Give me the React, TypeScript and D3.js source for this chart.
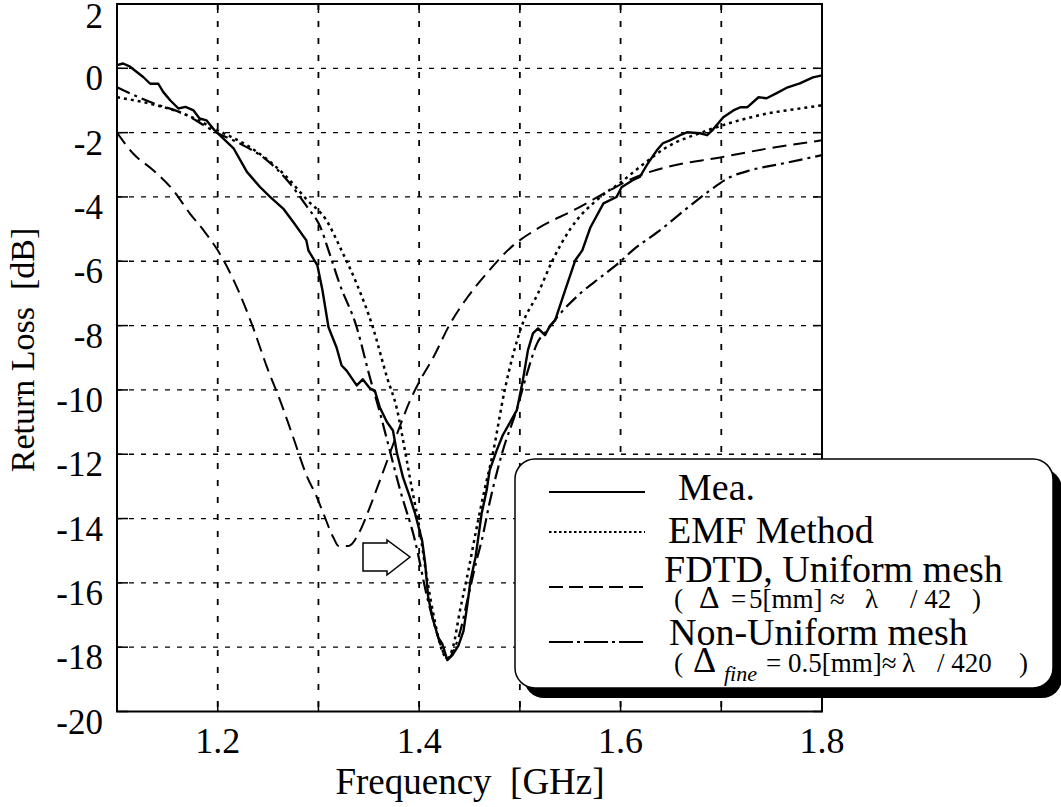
import React from "react";
import * as d3 from "d3";

// ---------- data ----------
const xTicks = [1.2, 1.4, 1.6, 1.8];
const xGrid = [1.2, 1.3, 1.4, 1.5, 1.6, 1.7];
const yTicks = [2, 0, -2, -4, -6, -8, -10, -12, -14, -16, -18, -20];
const yGrid = [0, -2, -4, -6, -8, -10, -12, -14, -16, -18];

const meaF = [1.1, 1.106, 1.113, 1.126, 1.133, 1.141, 1.146, 1.153, 1.161, 1.168, 1.176, 1.182, 1.189, 1.197, 1.202, 1.216, 1.229, 1.242, 1.252, 1.265, 1.275, 1.288, 1.29, 1.299, 1.304, 1.31, 1.318, 1.323, 1.328, 1.338, 1.344, 1.351, 1.356, 1.361, 1.368, 1.374, 1.378, 1.384, 1.391, 1.396, 1.403, 1.406, 1.409, 1.414, 1.419, 1.423, 1.428, 1.433, 1.439, 1.444, 1.448, 1.451, 1.456, 1.462, 1.467, 1.47, 1.477, 1.483, 1.497, 1.503, 1.508, 1.513, 1.518, 1.525, 1.53, 1.535, 1.545, 1.555, 1.562, 1.57, 1.583, 1.596, 1.601, 1.612, 1.619, 1.627, 1.636, 1.642, 1.649, 1.659, 1.666, 1.679, 1.686, 1.691, 1.702, 1.712, 1.719, 1.726, 1.737, 1.745, 1.755, 1.766, 1.778, 1.791, 1.8];
const meaV = [0.1, 0.15, 0.05, -0.27, -0.48, -0.48, -0.74, -1.0, -1.25, -1.2, -1.31, -1.56, -1.62, -1.93, -2.08, -2.5, -3.22, -3.69, -4.0, -4.36, -4.78, -5.35, -5.66, -6.13, -6.9, -8.05, -8.68, -9.24, -9.4, -9.86, -9.67, -9.95, -10.02, -10.55, -11.0, -11.26, -11.97, -12.72, -13.35, -13.85, -14.69, -15.4, -16.45, -17.17, -17.7, -17.9, -18.4, -18.25, -17.95, -17.5, -16.65, -15.93, -15.2, -13.85, -13.13, -12.5, -11.88, -11.41, -10.63, -9.7, -8.77, -8.24, -8.09, -8.3, -8.0, -7.84, -6.9, -5.97, -5.66, -4.95, -4.2, -4.0, -3.7, -3.48, -3.38, -2.96, -2.55, -2.33, -2.24, -2.08, -1.99, -2.02, -2.08, -1.93, -1.52, -1.31, -1.21, -1.21, -0.9, -0.93, -0.77, -0.59, -0.47, -0.28, -0.22];

const emfF = [1.1, 1.133, 1.166, 1.2, 1.232, 1.265, 1.289, 1.308, 1.322, 1.338, 1.354, 1.368, 1.378, 1.386, 1.393, 1.399, 1.408, 1.414, 1.424, 1.428, 1.434, 1.44, 1.449, 1.457, 1.465, 1.473, 1.485, 1.502, 1.518, 1.532, 1.55, 1.58, 1.6, 1.619, 1.646, 1.68, 1.712, 1.745, 1.778, 1.8];
const emfV = [-0.9, -1.1, -1.41, -1.93, -2.45, -3.27, -4.1, -4.73, -5.6, -6.7, -8.05, -9.6, -10.6, -11.9, -13.1, -14.06, -15.9, -16.95, -18.2, -18.35, -17.95, -16.95, -15.6, -14.3, -13.1, -12.0, -10.0, -8.0, -7.0, -6.0, -5.0, -4.0, -3.55, -3.07, -2.45, -2.0, -1.67, -1.41, -1.25, -1.15];

const fdtdF = [1.1, 1.116, 1.136, 1.156, 1.172, 1.186, 1.2, 1.216, 1.235, 1.249, 1.262, 1.275, 1.289, 1.298, 1.305, 1.315, 1.32, 1.33, 1.341, 1.351, 1.363, 1.378, 1.391, 1.401, 1.414, 1.431, 1.448, 1.467, 1.49, 1.52, 1.553, 1.593, 1.612, 1.646, 1.699, 1.745, 1.8];
const fdtdV = [-2.0, -2.65, -3.17, -3.8, -4.5, -5.04, -5.66, -6.6, -8.05, -9.3, -10.33, -11.48, -12.72, -13.3, -13.85, -14.6, -14.85, -14.85, -14.4, -13.65, -12.65, -11.37, -10.33, -9.7, -8.99, -7.93, -7.12, -6.38, -5.6, -4.94, -4.42, -3.73, -3.42, -3.07, -2.77, -2.5, -2.24];

const nuF = [1.1, 1.133, 1.166, 1.2, 1.222, 1.249, 1.269, 1.289, 1.302, 1.31, 1.321, 1.338, 1.351, 1.361, 1.371, 1.381, 1.396, 1.408, 1.418, 1.428, 1.438, 1.45, 1.457, 1.462, 1.47, 1.483, 1.497, 1.507, 1.517, 1.527, 1.537, 1.56, 1.58, 1.6, 1.612, 1.639, 1.666, 1.689, 1.709, 1.729, 1.761, 1.8];
const nuV = [-0.59, -1.05, -1.41, -2.02, -2.34, -2.86, -3.48, -4.32, -4.94, -5.66, -6.7, -8.05, -9.6, -10.7, -11.9, -13.1, -14.7, -16.45, -17.6, -18.35, -17.8, -16.25, -15.3, -14.7, -13.5, -11.9, -10.6, -9.5, -8.56, -8.15, -7.74, -7.0, -6.5, -6.0, -5.66, -5.04, -4.35, -3.79, -3.38, -3.17, -2.96, -2.7];

const legendLabels = ["Mea.", "EMF Method", "FDTD, Uniform mesh", "Non-Uniform mesh"];

// ---------- layout ----------
const W = 1061;
const H = 807;
const L = 117, R = 822, T = 4, B = 711.5;
const FONT = "Liberation Serif";

const x = d3.scaleLinear().domain([1.1, 1.8]).range([L, R]);
const y = d3.scaleLinear().domain([-20, 2]).range([B, T]);

const zip = (a: number[], b: number[]) => a.map((v, i) => [v, b[i]] as [number, number]);
const lineLin = d3.line<[number, number]>().x((d) => x(d[0])).y((d) => y(d[1])).curve(d3.curveLinear);
const lineSmooth = d3.line<[number, number]>().x((d) => x(d[0])).y((d) => y(d[1])).curve(d3.curveMonotoneX);

function T0({ x0, y0, size, children, anchor = "start" }: any) {
  return (
    <text x={x0} y={y0} fontFamily={FONT} fontSize={size} textAnchor={anchor} fill="#000">
      {children}
    </text>
  );
}

export default function App() {
  const ls = 549, le = 645;
  const sub = 27;
  return (
    <svg width={W} height={H} style={{ position: "absolute", left: 0, top: 0, background: "#fff" }}>
      <rect x={0} y={0} width={W} height={H} fill="#fff" />
      {/* grid */}
      {yGrid.map((v) => (
        <line key={"hg" + v} x1={L} x2={R} y1={y(v)} y2={y(v)} stroke="#000" strokeWidth={1.3} strokeDasharray="5,7" />
      ))}
      {xGrid.map((v) => (
        <line key={"vg" + v} x1={x(v)} x2={x(v)} y1={T} y2={B} stroke="#000" strokeWidth={1.8} strokeDasharray="6,11" />
      ))}
      {/* ticks */}
      {yTicks.map((v) => (
        <g key={"yt" + v}>
          <line x1={L} x2={L + 11} y1={y(v)} y2={y(v)} stroke="#000" strokeWidth={1.5} />
          <line x1={R - 9} x2={R} y1={y(v)} y2={y(v)} stroke="#000" strokeWidth={1.5} />
        </g>
      ))}
      {xGrid.map((v) => (
        <g key={"xt" + v}>
          <line x1={x(v)} x2={x(v)} y1={B} y2={B - 10} stroke="#000" strokeWidth={1.5} />
          <line x1={x(v)} x2={x(v)} y1={T} y2={T + 9} stroke="#000" strokeWidth={1.5} />
        </g>
      ))}
      {/* curves */}
      <path d={lineSmooth(zip(fdtdF, fdtdV)) || ""} fill="none" stroke="#000" strokeWidth={2} strokeDasharray="14,7" />
      <path d={lineSmooth(zip(nuF, nuV)) || ""} fill="none" stroke="#000" strokeWidth={2.2} strokeDasharray="14,5,3,5" />
      <path d={lineSmooth(zip(emfF, emfV)) || ""} fill="none" stroke="#000" strokeWidth={2.5} strokeDasharray="3,4" />
      <path d={lineLin(zip(meaF, meaV)) || ""} fill="none" stroke="#000" strokeWidth={2.4} strokeLinejoin="round" />
      {/* frame */}
      <rect x={L} y={T} width={R - L} height={B - T} fill="none" stroke="#000" strokeWidth={2} />
      {/* y tick labels */}
      {yTicks.map((v) => (
        <T0 key={"yl" + v} x0={103} y0={Math.max(y(v) + 22, 28)} size={35} anchor="end">
          {String(v)}
        </T0>
      ))}
      {/* x tick labels */}
      {xTicks.map((v) => (
        <T0 key={"xl" + v} x0={x(v)} y0={753} size={36} anchor="middle">
          {v.toFixed(1)}
        </T0>
      ))}
      <T0 x0={470} y0={794} size={37} anchor="middle">
        {"Frequency\u00a0\u00a0[GHz]"}
      </T0>
      <text transform={`translate(34,350) rotate(-90)`} fontFamily={FONT} fontSize={34} textAnchor="middle" fill="#000">
        {"Return Loss\u00a0\u00a0[dB]"}
      </text>
      {/* arrow */}
      <polygon
        points="363,543 387,543 387,540 410,557 387,575 387,571 363,571"
        fill="#fff"
        stroke="#000"
        strokeWidth={1.5}
      />
      {/* legend */}
      <rect x={524} y={469} width={538} height={229} rx={20} fill="#000" />
      <rect x={515} y={459} width={538} height={229} rx={20} fill="#fff" stroke="#000" strokeWidth={1.5} />
      <line x1={ls} x2={le} y1={492} y2={492} stroke="#000" strokeWidth={2.2} />
      <line x1={ls} x2={le} y1={532} y2={532} stroke="#000" strokeWidth={1.8} strokeDasharray="2.5,2.5" />
      <line x1={ls} x2={le} y1={587} y2={587} stroke="#000" strokeWidth={2} strokeDasharray="14,6" />
      <line x1={ls} x2={le} y1={642} y2={642} stroke="#000" strokeWidth={2.2} strokeDasharray="24,4,3,4" />
      <T0 x0={678} y0={500} size={38}>{legendLabels[0]}</T0>
      <T0 x0={668} y0={543} size={38}>{legendLabels[1]}</T0>
      <T0 x0={664} y0={582} size={38}>{legendLabels[2]}</T0>
      <T0 x0={669} y0={645} size={38}>{legendLabels[3]}</T0>
      {/* sub-label 1 */}
      <text y={608} fontFamily={FONT} fontSize={sub} fill="#000">
        <tspan x={674}>(</tspan>
        <tspan x={699} fontSize={32}>Δ</tspan>
        <tspan x={731}>=</tspan>
        <tspan x={749}>5[mm]</tspan>
        <tspan x={830}>≈</tspan>
        <tspan x={865}>λ</tspan>
        <tspan x={910}>/ 42</tspan>
        <tspan x={972}>)</tspan>
      </text>
      {/* sub-label 2 */}
      <text y={672} fontFamily={FONT} fontSize={sub} fill="#000">
        <tspan x={674}>(</tspan>
        <tspan x={693} fontSize={36}>Δ</tspan>
        <tspan x={724} dy={9} fontSize={22} fontStyle="italic">fine</tspan>
        <tspan x={766} dy={-9}>= 0.5[mm]≈</tspan>
        <tspan x={902}>λ</tspan>
        <tspan x={937}>/ 420</tspan>
        <tspan x={1019}>)</tspan>
      </text>
    </svg>
  );
}
